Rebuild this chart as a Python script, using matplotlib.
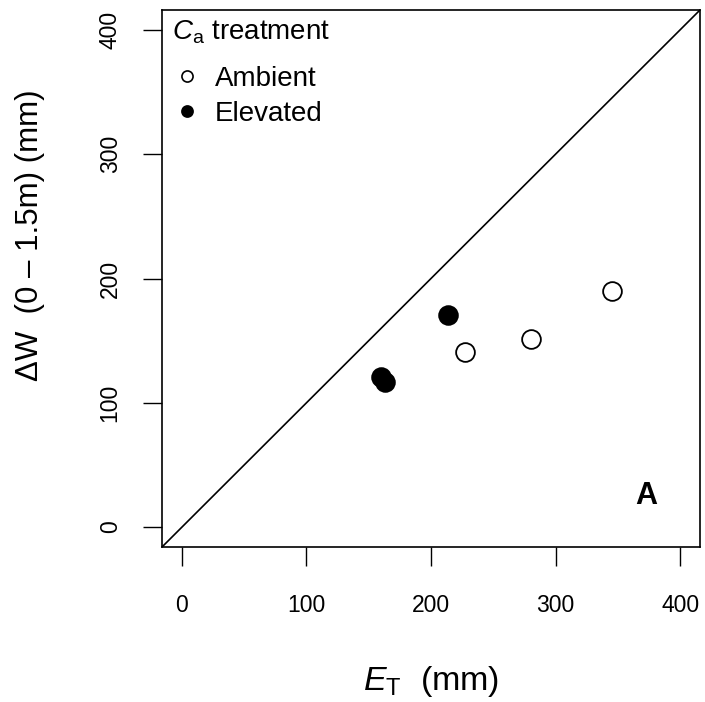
import matplotlib
matplotlib.use("Agg")
import matplotlib.pyplot as plt
from matplotlib.lines import Line2D

plt.rcParams['font.family'] = ['Liberation Sans', 'DejaVu Sans']
plt.rcParams['mathtext.fontset'] = 'custom'
plt.rcParams['mathtext.rm'] = 'Liberation Sans'
plt.rcParams['mathtext.it'] = 'Liberation Sans:italic'
plt.rcParams['mathtext.bf'] = 'Liberation Sans:bold'

# datos (mm)
et_ambiente = [227, 280, 345]
dw_ambiente = [141, 151, 190]
et_elevado = [214, 160, 163]
dw_elevado = [171, 121, 117]

ticks = [0, 100, 200, 300, 400]

fig = plt.figure(figsize=(7.05, 7.02), dpi=100)
ax = fig.add_axes([162/705, 1 - 547/702, 538/705, 537/702])

# linea 1:1
ax.axline((0, 0), slope=1, color='black', lw=1.2)

ax.plot(et_ambiente, dw_ambiente, 'o', ms=13.5, mfc='white', mec='black', mew=1.3)
ax.plot(et_elevado, dw_elevado, 'o', ms=13.5, mfc='black', mec='black', mew=1.3)

ax.set_xlim(-16, 416)
ax.set_ylim(-16, 416)
ax.set_xticks(ticks)
ax.set_yticks(ticks)
ax.set_yticklabels([str(t) for t in ticks], rotation=90, va='center')
ax.tick_params(length=14, width=1, labelsize=16.5)
ax.tick_params(axis='x', pad=20)
ax.tick_params(axis='y', pad=15)
for s in ax.spines.values():
    s.set_linewidth(1.2)

ax.set_xlabel(r'$\mathit{E}_\mathrm{T}$  (mm)', fontsize=24.5)
ax.xaxis.set_label_coords(0.5, -0.25)
ax.xaxis.label.set_va('center')
ax.set_ylabel('ΔW  (0 – 1.5m) (mm)', fontsize=22.5)
ax.yaxis.set_label_coords(-0.246, 0.58)
ax.yaxis.label.set_va('center')

# leyenda
ax.text(0.018, 0.945, r'$\mathit{C}_\mathrm{a}$ treatment', fontsize=20,
        transform=ax.transAxes, va='baseline', ha='left')
handles = [
    Line2D([], [], marker='o', ls='', ms=8, mfc='white', mec='black', mew=1.2, label='Ambient'),
    Line2D([], [], marker='o', ls='', ms=8, mfc='black', mec='black', mew=1.2, label='Elevated'),
]
ax.legend(handles=handles, loc='upper left', bbox_to_anchor=(0.003, 0.914),
          frameon=False, fontsize=20, handlelength=1.0, handletextpad=0.5,
          labelspacing=0.33, borderpad=0.35, borderaxespad=0)

ax.text(0.8996, 0.080, 'A', fontsize=22, fontweight='bold',
        transform=ax.transAxes, ha='center', va='baseline')

fig.savefig('out.png', dpi=100)
